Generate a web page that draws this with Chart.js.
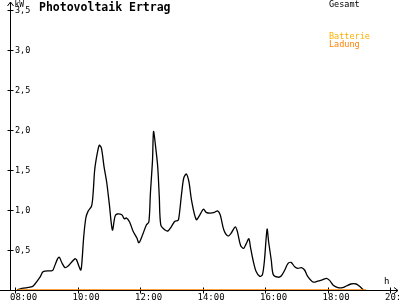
<!DOCTYPE html>
<html>
<head>
<meta charset="utf-8">
<script src="https://cdn.jsdelivr.net/npm/chart.js@4"></script>
<style>
  html, body { margin: 0; padding: 0; background: #fff; }
  canvas { display: block; }
</style>
</head>
<body>
<canvas id="pvChart" width="400" height="300"></canvas>
<script>
// Gesamt (kW)
const times = ['08:04','08:13','08:29','08:35','08:48','08:54','09:10','09:13','09:21','09:25',
  '09:30','09:36','09:42','09:49','09:55','09:58','10:06','10:08','10:12','10:16',
  '10:20','10:27','10:30','10:33','10:38','10:42','10:46','10:51','10:56','11:01',
  '11:07','11:12','11:16','11:25','11:30','11:34','11:40','11:47','11:54','11:58',
  '12:05','12:12','12:17','12:20','12:24','12:26','12:30','12:34','12:37','12:40',
  '12:48','12:54','13:00','13:07','13:13','13:15','13:20','13:24','13:29','13:34',
  '13:39','13:48','13:55','14:02','14:07','14:15','14:23','14:29','14:34','14:41',
  '14:49','14:55','15:03','15:07','15:13','15:19','15:24','15:29','15:32','15:37',
  '15:43','15:50','15:55','15:59','16:04','16:07','16:12','16:16','16:25','16:31',
  '16:38','16:44','16:50','16:57','17:03','17:10','17:16','17:22','17:32','17:41',
  '17:51','17:58','18:04','18:11','18:20','18:29','18:36','18:45','18:55','19:01','19:09'];
const gesamt = [0.00,0.02,0.035,0.05,0.16,0.23,0.24,0.25,0.38,0.41,
  0.34,0.28,0.30,0.35,0.39,0.38,0.25,0.31,0.67,0.90,
  0.98,1.05,1.21,1.50,1.71,1.81,1.77,1.54,1.35,1.08,
  0.75,0.92,0.95,0.94,0.89,0.90,0.85,0.73,0.65,0.59,
  0.69,0.81,0.85,1.21,1.62,1.98,1.79,1.54,1.17,0.81,
  0.75,0.74,0.79,0.86,0.87,0.92,1.21,1.40,1.45,1.35,
  1.12,0.88,0.94,1.01,0.97,0.96,0.97,0.99,0.94,0.75,
  0.675,0.71,0.79,0.73,0.56,0.52,0.58,0.64,0.54,0.375,
  0.23,0.17,0.19,0.375,0.76,0.60,0.375,0.19,0.16,0.175,
  0.25,0.33,0.345,0.29,0.27,0.28,0.25,0.17,0.10,0.11,
  0.13,0.145,0.12,0.06,0.03,0.03,0.05,0.075,0.075,0.05,0.00];

// Batterie Ladung (kW)
const ladungTimes = ['08:04', '19:14'];
const ladung = [0, 0];

const xTicks = [8, 10, 12, 14, 16, 18, 20];
const xTickLabels = ['08:00', '10:00', '12:00', '14:00', '16:00', '18:00', '20:00'];
const yTicks = [0.5, 1.0, 1.5, 2.0, 2.5, 3.0, 3.5];
const yTickLabels = ['0,5', '1,0', '1,5', '2,0', '2,5', '3,0', '3,5'];

const MONO = '"DejaVu Sans Mono", "Liberation Mono", monospace';

function toHours(t) {
    const [h, m] = t.split(':').map(Number);
    return h + m / 60;
}

// axes with arrows, cross ticks and labels, drawn from the chart's own scales
const axesPlugin = {
    id: 'pvAxes',
    beforeDatasetsDraw(chart) {
        const { ctx, scales: { x, y } } = chart;
        const x0 = Math.round(x.getPixelForValue(x.min)) + 0.5;
        const y0 = Math.round(y.getPixelForValue(0)) + 0.5;
        const right = Math.round(x.getPixelForValue(x.max));
        const top = Math.round(y.getPixelForValue(y.max));
        ctx.save();
        ctx.strokeStyle = '#000';
        ctx.lineWidth = 1;
        ctx.beginPath();
        ctx.moveTo(0, y0); ctx.lineTo(right, y0);
        ctx.moveTo(right - 4, y0 - 3); ctx.lineTo(right, y0); ctx.lineTo(right - 4, y0 + 3);
        ctx.moveTo(x0, y0); ctx.lineTo(x0, top);
        ctx.moveTo(x0 - 3, top + 4); ctx.lineTo(x0, top); ctx.lineTo(x0 + 3, top + 4);
        xTicks.forEach(v => {
            const px = Math.round(x.getPixelForValue(v)) + 0.5;
            ctx.moveTo(px, y0 - 3); ctx.lineTo(px, y0 + 3);
        });
        yTicks.forEach(v => {
            const py = Math.round(y.getPixelForValue(v)) + 0.5;
            ctx.moveTo(x0 - 3, py); ctx.lineTo(x0 + 3, py);
        });
        ctx.stroke();

        ctx.fillStyle = '#000';
        ctx.font = '8.5px ' + MONO;
        ctx.textAlign = 'left';
        ctx.textBaseline = 'middle';
        yTicks.forEach((v, i) => {
            ctx.fillText(yTickLabels[i], x0 + 4.5, y.getPixelForValue(v) + 1);
        });
        ctx.font = '9px ' + MONO;
        ctx.textBaseline = 'alphabetic';
        xTicks.forEach((v, i) => {
            ctx.fillText(xTickLabels[i], x.getPixelForValue(v) - 5, 300);
        });
        ctx.font = '8px ' + MONO;
        ctx.fillText('kW', x0 + 4, 7);
        ctx.font = '9px ' + MONO;
        ctx.fillText('h', 384, 284);

        ctx.font = 'bold 11.5px ' + MONO;
        ctx.fillText('Photovoltaik Ertrag', 39, 11);

        ctx.font = '8.5px ' + MONO;
        ctx.fillText('Gesamt', 329, 7);
        ctx.fillStyle = '#ffb000';
        ctx.fillText('Batterie', 329, 39);
        ctx.fillStyle = '#ff8000';
        ctx.fillText('Ladung', 329, 46.5);
        ctx.restore();
    }
};

const ctx = document.getElementById('pvChart').getContext('2d');
const pvChart = new Chart(ctx, {
    type: 'line',
    data: {
        datasets: [
            {
                label: 'Ladung',
                data: ladungTimes.map((t, i) => ({ x: toHours(t), y: ladung[i] })),
                borderColor: '#ff8000',
                borderWidth: 1.5,
                pointRadius: 0,
                order: 0
            },
            {
                label: 'Gesamt',
                data: times.map((t, i) => ({ x: toHours(t), y: gesamt[i] })),
                borderColor: '#000',
                borderWidth: 1.3,
                pointRadius: 0,
                tension: 0.3,
                order: 1
            }
        ]
    },
    options: {
        responsive: false,
        animation: false,
        layout: { padding: { left: 10, right: 2, top: 2, bottom: 10 } },
        scales: {
            x: { type: 'linear', min: 7.84, max: 20.256, display: false },
            y: { min: 0, max: 3.6, display: false }
        },
        plugins: {
            legend: { display: false },
            tooltip: { enabled: false }
        }
    },
    plugins: [axesPlugin]
});
</script>
</body>
</html>
